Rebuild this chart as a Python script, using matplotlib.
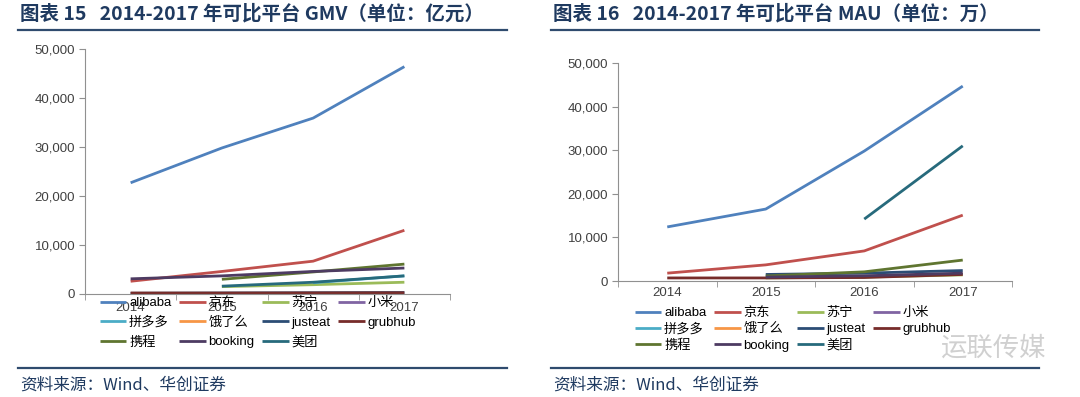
import numpy as np
import matplotlib
matplotlib.use('Agg')
import matplotlib.pyplot as plt
from matplotlib.lines import Line2D
from matplotlib.ticker import FuncFormatter, FixedLocator

plt.rcParams['font.family'] = ['Liberation Sans', 'Noto Sans CJK SC', 'DejaVu Sans']

nan = np.nan
years = ['2014', '2015', '2016', '2017']
names = ['alibaba', '京东', '苏宁', '小米', '拼多多', '饿了么',
         'justeat', 'grubhub', '携程', 'booking', '美团']
colors = ['#4F81BD', '#C0504D', '#9BBB59', '#8064A2', '#4BACC6', '#F79646',
          '#2C4D75', '#772C2A', '#5F7530', '#4D3B62', '#276A7C']

# GMV (亿元)
gmv_alibaba = [22700, 29800, 35900, 46400]
gmv_jd = [2600, 4600, 6700, 13000]
gmv_suning = [nan, 1500, 1900, 2400]
gmv_xiaomi = [nan, nan, nan, nan]
gmv_pdd = [nan, nan, 2300, 3700]
gmv_eleme = [nan, nan, nan, nan]
gmv_justeat = [150, 200, 250, 300]
gmv_grubhub = [200, 200, 220, 250]
gmv_ctrip = [nan, 3000, 4500, 6100]
gmv_booking = [3100, 3700, 4600, 5300]
gmv_meituan = [nan, 1600, 2400, 3700]

# MAU (万)
mau_alibaba = [12400, 16500, 29800, 44700]
mau_jd = [1800, 3700, 6900, 15100]
mau_suning = [nan, 700, 900, 1400]
mau_xiaomi = [nan, nan, nan, nan]
mau_pdd = [nan, nan, nan, nan]
mau_eleme = [nan, nan, nan, nan]
mau_justeat = [nan, 1500, 1800, 2400]
mau_grubhub = [700, 700, 800, 1500]
mau_ctrip = [nan, 1150, 2100, 4800]
mau_booking = [nan, 900, 1200, 1800]
mau_meituan = [nan, nan, 14200, 31000]

gmv = [gmv_alibaba, gmv_jd, gmv_suning, gmv_xiaomi, gmv_pdd, gmv_eleme,
       gmv_justeat, gmv_grubhub, gmv_ctrip, gmv_booking, gmv_meituan]
mau = [mau_alibaba, mau_jd, mau_suning, mau_xiaomi, mau_pdd, mau_eleme,
       mau_justeat, mau_grubhub, mau_ctrip, mau_booking, mau_meituan]

W, H = 1080, 397
fig = plt.figure(figsize=(W / 100, H / 100), dpi=100)

navy = '#1F3A60'
cjk = ['Noto Sans CJK SC', 'DejaVu Sans']


def px(x, y):
    return x / W, 1 - y / H


def panel(rect, series, legend_xy, legend_space, tick_pad):
    ax = fig.add_axes(rect)
    x = np.arange(len(years))
    handles = []
    for vals, nm, c in zip(series, names, colors):
        h, = ax.plot(x, vals, color=c, lw=2, label=nm, solid_capstyle='butt')
        handles.append(h)
    ax.set_xlim(-0.5, 3.5)
    ax.set_ylim(0, 50000)
    ax.set_yticks(np.arange(0, 50001, 10000))
    ax.yaxis.set_major_formatter(FuncFormatter(lambda v, p: f'{int(v):,}'))
    ax.set_xticks(x)
    ax.set_xticklabels(years)
    ax.xaxis.set_minor_locator(FixedLocator([-0.5, 0.5, 1.5, 2.5, 3.5]))
    ax.tick_params(axis='x', which='major', length=0, pad=tick_pad,
                   labelsize=9.5, labelcolor='#404040')
    ax.tick_params(axis='x', which='minor', length=4, color='#909090')
    ax.tick_params(axis='y', length=4, color='#909090', labelsize=9.5,
                   labelcolor='#404040', pad=3)
    for s in ['top', 'right']:
        ax.spines[s].set_visible(False)
    for s in ['left', 'bottom']:
        ax.spines[s].set_color('#909090')
        ax.spines[s].set_linewidth(0.8)
    ax.patch.set_alpha(0)
    # legend fills column-wise, so reorder to get the original row layout
    order = [0, 4, 8, 1, 5, 9, 2, 6, 10, 3, 7]
    fig.legend([handles[i] for i in order], [names[i] for i in order],
               loc='upper left', bbox_to_anchor=legend_xy, ncol=4,
               frameon=False, handlelength=2.0,
               handletextpad=0.2, columnspacing=0.6,
               labelspacing=legend_space, borderpad=0, borderaxespad=0,
               prop={'family': ['Liberation Sans', 'Noto Sans CJK SC'], 'size': 9.5})
    return ax


l0, b0 = px(85, 294)
l1, t1 = px(450, 49)
panel([l0, b0, l1 - l0, t1 - b0], gmv, px(100, 297), 0.55, 6)

r0, rb = px(618, 281)
r1, rt = px(1012, 63)
panel([r0, rb, r1 - r0, rt - rb], mau, px(635, 307), 0.3, 4)

# titles
fig.text(*px(20, 14), '图表 15   2014-2017 年可比平台 GMV（单位：亿元）',
         family=cjk, fontsize=14, weight='bold', color=navy, va='center')
fig.text(*px(553, 14), '图表 16   2014-2017 年可比平台 MAU（单位：万）',
         family=cjk, fontsize=14, weight='bold', color=navy, va='center')

# rules
for (xa, xb) in [(18, 507), (551, 1039)]:
    for yy in [30, 368]:
        fig.add_artist(Line2D([xa / W, xb / W], [1 - yy / H, 1 - yy / H],
                              color='#2F4B6E', lw=1.6))

# source notes
fig.text(*px(20, 385), '资料来源：Wind、华创证券', family=cjk, fontsize=12,
         color=navy, va='center', style='italic')
fig.text(*px(553, 385), '资料来源：Wind、华创证券', family=cjk, fontsize=12,
         color=navy, va='center', style='italic')

# watermark
fig.text(*px(940, 348), '运联传媒', family=cjk, fontsize=19, color='#d0d0d0',
         va='center')

fig.savefig('out.png', dpi=100)
